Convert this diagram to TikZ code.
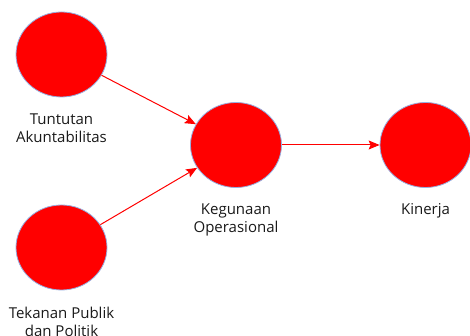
\documentclass[tikz,border=0pt]{standalone}
\usepackage{fontspec}
\setmainfont{Open Sans}
\usetikzlibrary{shapes.geometric,arrows.meta}
\definecolor{nodered}{RGB}{255,0,0}
\definecolor{rimblue}{RGB}{150,175,225}
\definecolor{txt}{RGB}{25,25,25}
\tikzset{
  latent/.style={ellipse, fill=nodered, draw=rimblue, line width=0.8pt,
    minimum width=91pt, minimum height=85pt, inner sep=0pt},
  lbl/.style={align=center, inner sep=0pt, anchor=north, text=txt,
    font=\fontsize{15pt}{18pt}\selectfont},
  path/.style={draw=nodered, line width=1pt,
    -{Stealth[length=11pt,width=9pt,inset=2pt]}}
}
\begin{document}
\begin{tikzpicture}[x=1pt,y=1pt]
\useasboundingbox (0,0) rectangle (470,336);
\node[latent] (ta) at (61.5,281.5) {};
\node[latent] (tp) at (61.5,88.5) {};
\node[latent] (ko) at (236,191) {};
\node[latent] (ki) at (425.5,191) {};
\node[lbl] (lta) at (61.5,222.7) {Tuntutan\\Akuntabilitas};
\node[lbl] (ltp) at (61.5,29) {Tekanan Publik\\dan Politik};
\node[lbl] (lko) at (236,132.7) {Kegunaan\\Operasional};
\node[lbl] (lki) at (425.5,132.7) {Kinerja};
\path[path] (ta) -- (ko);
\path[path] (tp) -- (ko);
\path[path] (ko) -- (ki);
\end{tikzpicture}
\end{document}
